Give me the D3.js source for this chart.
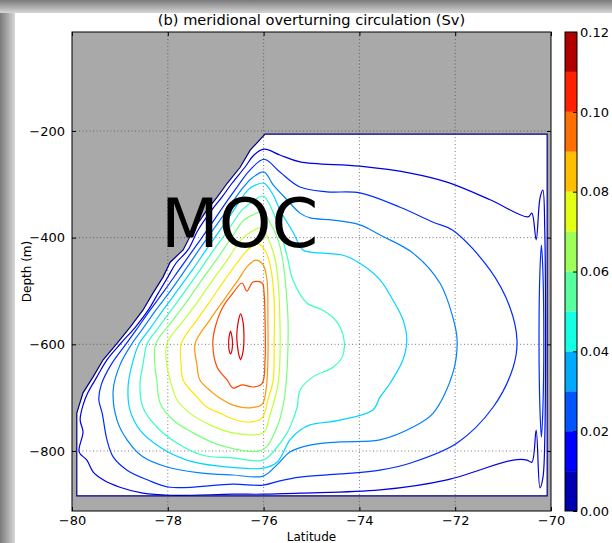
<!DOCTYPE html>
<html>
<head>
<meta charset="utf-8">
<script src="https://d3js.org/d3.v7.min.js"></script>
<style>
  body { margin: 0; background: #fff; }
  svg { display: block; font-family: "DejaVu Sans", sans-serif; }
</style>
</head>
<body>
<div id="chart"></div>
<script>
const title = "(b) meridional overturning circulation (Sv)";
const xLabel = "Latitude";
const yLabel = "Depth (m)";
const annotation = "MOC";
const xTicks = [-80, -78, -76, -74, -72, -70];
const yTicks = [-800, -600, -400, -200];
const cbarTicks = [0, 0.02, 0.04, 0.06, 0.08, 0.10, 0.12];
const levels = [0, 0.01, 0.02, 0.03, 0.04, 0.05, 0.06, 0.07, 0.08, 0.09, 0.10, 0.11, 0.12];
const xDomain = [-80, -70];
const yDomain = [-912.5, -14.4];

// ocean mask outline [lat, depth]; also drawn as the 0.00 contour
const ocean = [[-79.90,-884],[-79.90,-729],[-79.77,-691],[-79.56,-661],[-79.35,-629],[-79.06,-598],[-78.79,-568],[-78.52,-536],[-78.31,-504],[-78.10,-474],[-77.95,-446],[-77.68,-423],[-77.47,-386],[-77.18,-348],[-76.97,-324],[-76.76,-298],[-76.49,-268],[-76.28,-236],[-75.97,-206],[-70.08,-206],[-70.08,-884]];

// contour lines, [lat, depth]
const c01 = [[-75.99,-234],[-76.20,-245],[-76.39,-268],[-76.66,-298],[-76.87,-324],[-77.08,-348],[-77.37,-386],[-77.58,-423],[-77.83,-448],[-78.00,-474],[-78.20,-504],[-78.41,-536],[-78.68,-568],[-78.98,-598],[-79.27,-629],[-79.48,-661],[-79.67,-691],[-79.77,-714],[-79.83,-742],[-79.77,-764],[-79.85,-802],[-79.69,-817],[-79.56,-839],[-79.35,-854],[-79.00,-868],[-78.52,-879],[-77.95,-883],[-76.64,-881],[-76.01,-881],[-75.24,-879],[-73.57,-873],[-72.17,-854],[-70.79,-817],[-70.50,-817],[-70.40,-821],[-70.31,-761],[-70.23,-869],[-70.17,-851],[-70.13,-779],[-70.13,-386],[-70.17,-311],[-70.23,-326],[-70.31,-404],[-70.40,-354],[-70.48,-361],[-71.27,-329],[-72.17,-296],[-72.94,-279],[-73.99,-266],[-75.24,-258],[-75.66,-245]];
const c02 = [[-75.99,-253],[-75.66,-277],[-75.24,-305],[-74.68,-314],[-73.99,-316],[-73.15,-343],[-72.46,-371],[-72.05,-386],[-71.27,-461],[-70.86,-530],[-70.71,-592],[-70.79,-643],[-71.21,-718],[-71.96,-785],[-72.88,-821],[-73.57,-836],[-74.40,-843],[-75.24,-849],[-75.66,-856],[-76.01,-864],[-76.64,-862],[-77.95,-868],[-78.43,-854],[-78.85,-836],[-79.14,-811],[-79.27,-779],[-79.37,-729],[-79.44,-704],[-79.39,-676],[-79.19,-639],[-78.87,-599],[-78.66,-573],[-78.37,-536],[-78.06,-498],[-77.77,-461],[-77.47,-423],[-77.18,-386],[-76.89,-348],[-76.60,-311],[-76.28,-273]];
const c02wall = [[-70.20,-414],[-70.17,-461],[-70.15,-592],[-70.17,-723],[-70.20,-774],[-70.23,-723],[-70.25,-592],[-70.23,-461]];
const c03 = [[-75.99,-277],[-75.80,-301],[-75.51,-329],[-75.24,-354],[-75.03,-363],[-74.55,-367],[-73.99,-376],[-73.57,-395],[-72.88,-429],[-72.32,-485],[-72.05,-549],[-71.96,-592],[-72.05,-654],[-72.46,-729],[-72.88,-755],[-73.57,-779],[-74.40,-783],[-75.03,-789],[-75.45,-802],[-75.72,-826],[-76.01,-847],[-76.64,-845],[-77.33,-841],[-78.02,-830],[-78.52,-811],[-78.85,-779],[-79.06,-742],[-79.14,-686],[-79.00,-639],[-78.75,-599],[-78.54,-573],[-78.25,-536],[-77.93,-498],[-77.64,-461],[-77.35,-423],[-77.06,-386],[-76.76,-348],[-76.47,-311],[-76.24,-288]];
const c04 = [[-75.99,-298],[-75.80,-320],[-75.66,-348],[-75.39,-389],[-75.18,-423],[-75.03,-427],[-74.34,-433],[-73.99,-448],[-73.57,-479],[-73.30,-517],[-73.09,-554],[-73.01,-592],[-73.09,-629],[-73.36,-673],[-73.57,-699],[-73.72,-723],[-74.40,-742],[-75.03,-751],[-75.24,-761],[-75.45,-779],[-75.72,-821],[-76.01,-832],[-76.97,-828],[-77.60,-817],[-78.16,-793],[-78.58,-761],[-78.79,-723],[-78.83,-680],[-78.75,-639],[-78.60,-599],[-78.39,-573],[-78.10,-536],[-77.79,-498],[-77.49,-461],[-77.20,-423],[-76.91,-386],[-76.62,-348],[-76.33,-311],[-76.16,-301]];
const c05 = [[-76.01,-322],[-75.87,-339],[-75.72,-371],[-75.60,-404],[-75.49,-442],[-75.39,-479],[-75.09,-523],[-74.76,-536],[-74.47,-558],[-74.32,-592],[-74.36,-624],[-74.55,-643],[-74.97,-661],[-75.24,-686],[-75.30,-718],[-75.39,-742],[-75.51,-766],[-75.72,-793],[-76.01,-817],[-76.64,-813],[-77.27,-808],[-77.81,-785],[-78.23,-755],[-78.52,-718],[-78.58,-673],[-78.52,-639],[-78.43,-599],[-78.23,-573],[-77.93,-536],[-77.62,-498],[-77.33,-461],[-77.04,-423],[-76.74,-386],[-76.45,-348],[-76.24,-333]];
const c06 = [[-76.03,-352],[-75.87,-371],[-75.70,-404],[-75.60,-442],[-75.53,-498],[-75.49,-554],[-75.49,-599],[-75.51,-648],[-75.57,-704],[-75.72,-755],[-76.03,-798],[-76.91,-789],[-77.47,-766],[-77.89,-742],[-78.16,-710],[-78.23,-667],[-78.27,-639],[-78.25,-599],[-77.89,-554],[-77.58,-517],[-77.29,-479],[-76.99,-442],[-76.70,-404],[-76.41,-367],[-76.24,-358]];
const c07 = [[-76.05,-382],[-75.91,-401],[-75.78,-433],[-75.70,-479],[-75.66,-554],[-75.66,-629],[-75.70,-676],[-75.87,-733],[-76.01,-766],[-76.64,-766],[-77.12,-751],[-77.54,-729],[-77.81,-704],[-77.95,-667],[-78.02,-639],[-78.02,-599],[-77.66,-554],[-77.35,-517],[-77.06,-479],[-76.76,-442],[-76.47,-404],[-76.24,-388]];
const c08 = [[-76.10,-412],[-75.95,-427],[-75.85,-457],[-75.78,-517],[-75.78,-599],[-75.80,-667],[-75.91,-704],[-76.03,-738],[-76.28,-746],[-76.64,-740],[-76.91,-729],[-77.18,-718],[-77.39,-699],[-77.68,-667],[-77.72,-639],[-77.72,-599],[-77.39,-554],[-77.10,-517],[-76.81,-479],[-76.51,-442],[-76.28,-419]];
const c09 = [[-76.16,-442],[-76.01,-451],[-75.93,-479],[-75.91,-554],[-75.91,-629],[-75.95,-686],[-76.03,-712],[-76.28,-719],[-76.64,-714],[-76.91,-701],[-77.06,-691],[-77.33,-667],[-77.39,-639],[-77.43,-599],[-77.12,-554],[-76.83,-517],[-76.53,-479],[-76.33,-453]];
const c10 = [[-76.64,-504],[-76.45,-485],[-76.35,-500],[-76.22,-483],[-76.03,-485],[-75.99,-504],[-75.97,-554],[-75.97,-629],[-76.03,-673],[-76.22,-680],[-76.45,-676],[-76.64,-682],[-76.76,-667],[-76.97,-643],[-77.06,-599],[-77.01,-568],[-76.85,-530]];
const c11a = [[-76.69,-575],[-76.66,-586],[-76.65,-596],[-76.66,-611],[-76.69,-618],[-76.72,-611],[-76.73,-596],[-76.72,-586]];
const c11b = [[-76.48,-543],[-76.43,-558],[-76.41,-583],[-76.42,-607],[-76.45,-622],[-76.48,-629],[-76.51,-622],[-76.54,-607],[-76.56,-583],[-76.53,-558]];

const contourLines = [
  {level: 0.01, pts: c01}, {level: 0.02, pts: c02}, {level: 0.02, pts: c02wall},
  {level: 0.03, pts: c03}, {level: 0.04, pts: c04}, {level: 0.05, pts: c05},
  {level: 0.06, pts: c06}, {level: 0.07, pts: c07}, {level: 0.08, pts: c08},
  {level: 0.09, pts: c09}, {level: 0.10, pts: c10}, {level: 0.11, pts: c11a},
  {level: 0.11, pts: c11b}
];

const W = 612, H = 543;
const plot = {left: 72, right: 551, top: 32, bottom: 511};
const cbar = {left: 565, right: 577};

// matplotlib "jet"
const jetR = d3.scaleLinear().domain([0, 0.35, 0.66, 0.89, 1]).range([0, 0, 1, 1, 0.5]).clamp(true);
const jetG = d3.scaleLinear().domain([0, 0.125, 0.375, 0.64, 0.91, 1]).range([0, 0, 1, 1, 0, 0]).clamp(true);
const jetB = d3.scaleLinear().domain([0, 0.11, 0.34, 0.65, 1]).range([0.5, 1, 1, 0, 0]).clamp(true);
const jet = t => d3.rgb(255 * jetR(t), 255 * jetG(t), 255 * jetB(t)).formatHex();
const vmax = levels[levels.length - 1];

const x = d3.scaleLinear().domain(xDomain).range([plot.left, plot.right]);
const y = d3.scaleLinear().domain(yDomain).range([plot.bottom, plot.top]);
const cy = d3.scaleLinear().domain([levels[0], vmax]).range([plot.bottom, plot.top]);

const svg = d3.select('#chart').append('svg')
  .attr('width', W)
  .attr('height', H);

// screenshot shadow strips
const defs = svg.append('defs');
const gl = defs.append('linearGradient').attr('id', 'shL').attr('x1', 0).attr('x2', 1).attr('y1', 0).attr('y2', 0);
gl.append('stop').attr('offset', 0).attr('stop-color', '#7a7a7a');
gl.append('stop').attr('offset', 1).attr('stop-color', '#d6d6d6');
const gt = defs.append('linearGradient').attr('id', 'shT').attr('x1', 0).attr('x2', 0).attr('y1', 0).attr('y2', 1);
gt.append('stop').attr('offset', 0).attr('stop-color', '#7a7a7a');
gt.append('stop').attr('offset', 1).attr('stop-color', '#d6d6d6');
svg.append('rect').attr('x', 0).attr('y', 0).attr('width', 15).attr('height', H).attr('fill', 'url(#shL)');
svg.append('rect').attr('x', 0).attr('y', 0).attr('width', W).attr('height', 13).attr('fill', 'url(#shT)');
svg.append('rect').attr('x', 15).attr('y', 13).attr('width', W - 15).attr('height', H - 13).attr('fill', '#fff');

// axes background (land)
svg.append('rect')
  .attr('x', plot.left).attr('y', plot.top)
  .attr('width', plot.right - plot.left).attr('height', plot.bottom - plot.top)
  .attr('fill', '#a9a9a9');

const outline = d3.line().x(d => x(d[0])).y(d => y(d[1])).curve(d3.curveLinearClosed);
const smooth = d3.line().x(d => x(d[0])).y(d => y(d[1])).curve(d3.curveCatmullRomClosed.alpha(0.5));

svg.append('path')
  .attr('d', outline(ocean))
  .attr('fill', '#fff');

// grid
const grid = svg.append('g')
  .attr('stroke', '#444')
  .attr('stroke-width', 0.7)
  .attr('stroke-dasharray', '1,2.5');
grid.selectAll('.gx')
  .data(xTicks.slice(1, -1))
  .enter()
  .append('line')
  .attr('x1', d => x(d)).attr('x2', d => x(d))
  .attr('y1', plot.top).attr('y2', plot.bottom);
grid.selectAll('.gy')
  .data(yTicks)
  .enter()
  .append('line')
  .attr('y1', d => y(d)).attr('y2', d => y(d))
  .attr('x1', plot.left).attr('x2', plot.right);

// contours
svg.append('g')
  .attr('fill', 'none')
  .attr('stroke-width', 1.2)
  .attr('stroke-linejoin', 'round')
  .selectAll('path')
  .data(contourLines)
  .enter()
  .append('path')
  .attr('d', d => smooth(d.pts))
  .attr('stroke', d => jet(d.level / vmax));

svg.append('path')
  .attr('d', outline(ocean))
  .attr('fill', 'none')
  .attr('stroke', jet(0))
  .attr('stroke-width', 1.2);

svg.append('text')
  .attr('x', x(-76.5))
  .attr('y', y(-418))
  .attr('text-anchor', 'middle')
  .style('font-size', '67px')
  .text(annotation);

// frame + ticks
svg.append('rect')
  .attr('x', plot.left).attr('y', plot.top)
  .attr('width', plot.right - plot.left).attr('height', plot.bottom - plot.top)
  .attr('fill', 'none').attr('stroke', '#000');

const styleAxis = g => {
  g.select('.domain').remove();
  g.selectAll('text').style('font-size', '13px').style('font-family', '"DejaVu Sans", sans-serif').attr('fill', '#000');
};

svg.append('g')
  .attr('transform', `translate(0,${plot.bottom})`)
  .call(d3.axisBottom(x).tickValues(xTicks).tickSize(-4).tickPadding(5).tickFormat(d3.format('d')))
  .call(styleAxis);
svg.append('g')
  .attr('transform', `translate(0,${plot.top})`)
  .call(d3.axisTop(x).tickValues(xTicks).tickSize(-4).tickFormat(''))
  .call(styleAxis);
svg.append('g')
  .attr('transform', `translate(${plot.left},0)`)
  .call(d3.axisLeft(y).tickValues(yTicks).tickSize(-4).tickPadding(7).tickFormat(d3.format('d')))
  .call(styleAxis);
svg.append('g')
  .attr('transform', `translate(${plot.right},0)`)
  .call(d3.axisRight(y).tickValues(yTicks).tickSize(-4).tickFormat(''))
  .call(styleAxis);

svg.append('text')
  .attr('x', (plot.left + plot.right) / 2)
  .attr('y', 25)
  .attr('text-anchor', 'middle')
  .style('font-size', '14.6px')
  .text(title);

svg.append('text')
  .attr('x', (plot.left + plot.right) / 2)
  .attr('y', 541)
  .attr('text-anchor', 'middle')
  .style('font-size', '12px')
  .text(xLabel);

svg.append('text')
  .attr('transform', `translate(31,${(plot.top + plot.bottom) / 2}) rotate(-90)`)
  .attr('text-anchor', 'middle')
  .style('font-size', '12px')
  .text(yLabel);

// colorbar
const bands = d3.pairs(levels);
svg.append('g')
  .selectAll('rect')
  .data(bands)
  .enter()
  .append('rect')
  .attr('x', cbar.left)
  .attr('width', cbar.right - cbar.left)
  .attr('y', d => cy(d[1]))
  .attr('height', d => cy(d[0]) - cy(d[1]))
  .attr('fill', (d, i) => jet((i + 0.5) / bands.length));

svg.append('rect')
  .attr('x', cbar.left).attr('y', plot.top)
  .attr('width', cbar.right - cbar.left).attr('height', plot.bottom - plot.top)
  .attr('fill', 'none').attr('stroke', '#000');

svg.append('g')
  .attr('transform', `translate(${cbar.right},0)`)
  .call(d3.axisRight(cy).tickValues(cbarTicks).tickSize(-4).tickPadding(3).tickFormat(d3.format('.2f')))
  .call(styleAxis);
</script>
</body>
</html>
